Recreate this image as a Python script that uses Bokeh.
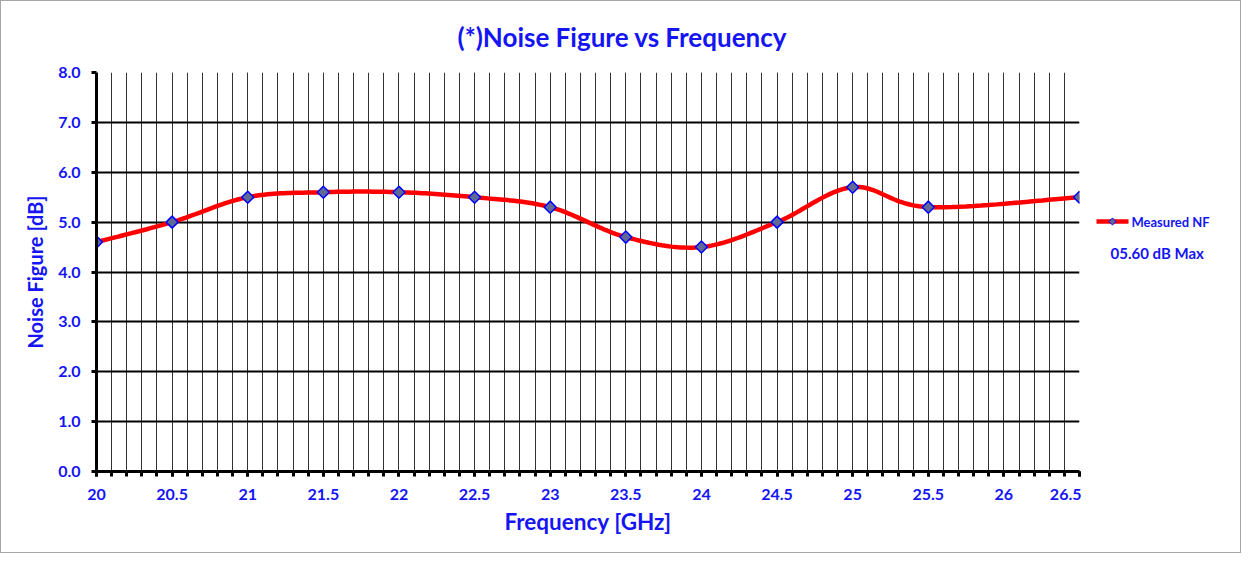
import numpy as np
from bokeh.plotting import figure
from bokeh.layouts import row
from bokeh.models import (Range1d, SingleIntervalTicker, NumeralTickFormatter, Title)
from bokeh.core.properties import value
from bokeh.embed import file_html
from bokeh.resources import INLINE

# ---- data ----
freq_ghz = [20.0, 20.5, 21.0, 21.5, 22.0, 22.5, 23.0, 23.5, 24.0, 24.5, 25.0, 25.5, 26.5]
noise_fig_db = [4.6, 5.0, 5.5, 5.6, 5.6, 5.5, 5.3, 4.7, 4.5, 5.0, 5.7, 5.3, 5.5]
series_name = "Measured NF"
max_note = "05.60 dB Max"
title_text = "(*)Noise Figure vs Frequency"
x_title = "Frequency [GHz]"
y_title = "Noise Figure [dB]"

BLUE = "#1414f5"
MARKER_FILL = "#5f6a94"
FONT = "Lato"


def smooth(xs, ys, n=24):
    """Excel-like smoothed line: cubic Bezier with Catmull-Rom control points."""
    P = np.column_stack([xs, ys]).astype(float)
    out = [P[0]]
    for i in range(len(P) - 1):
        p0 = P[i - 1] if i > 0 else P[i]
        p1 = P[i]
        p2 = P[i + 1]
        p3 = P[i + 2] if i + 2 < len(P) else P[i + 1]
        c1 = p1 + (p2 - p0) / 6.0
        c2 = p2 - (p3 - p1) / 6.0
        t = np.linspace(0, 1, n)[1:, None]
        seg = ((1 - t) ** 3) * p1 + 3 * ((1 - t) ** 2) * t * c1 + 3 * (1 - t) * t ** 2 * c2 + t ** 3 * p2
        out.extend(seg)
    out = np.array(out)
    return out[:, 0], out[:, 1]


sx, sy = smooth(freq_ghz, noise_fig_db)

p = figure(width=1080, height=551, output_backend="svg", toolbar_location=None,
           x_range=Range1d(20, 26.5), y_range=Range1d(0, 8),
           min_border_left=95, min_border_right=2, min_border_top=71, min_border_bottom=81,
           background_fill_color="white", border_fill_color="white")
p.outline_line_color = None

p.title = Title(text=title_text, align="left", offset=361, vertical_align="top",
                text_font=FONT, text_font_size="26px", text_font_style="bold",
                text_color=BLUE, standoff=35)

# axes
p.xaxis.ticker = SingleIntervalTicker(interval=0.5, num_minor_ticks=5)
p.xaxis.formatter = NumeralTickFormatter(format="0.[0]")
p.yaxis.ticker = SingleIntervalTicker(interval=1, num_minor_ticks=0)
p.yaxis.formatter = NumeralTickFormatter(format="0.0")

for ax in (p.xaxis[0], p.yaxis[0]):
    ax.axis_line_color = "black"
    ax.axis_line_width = 3
    ax.major_tick_line_color = "black"
    ax.major_tick_line_width = 3
    ax.major_tick_in = 0
    ax.major_tick_out = 5
    ax.major_label_text_font = FONT
    ax.major_label_text_font_size = "16px"
    ax.major_label_text_font_style = "bold"
    ax.major_label_text_color = BLUE
    ax.axis_label_text_font = FONT
    ax.axis_label_text_font_style = "bold"
    ax.axis_label_text_color = BLUE

p.xaxis.axis_label_text_font_size = "22.5px"
p.yaxis.axis_label_text_font_size = "20px"
p.xaxis.minor_tick_line_color = "black"
p.xaxis.minor_tick_line_width = 3
p.xaxis.minor_tick_in = 0
p.xaxis.minor_tick_out = 5
p.yaxis.minor_tick_line_color = None
p.xaxis.major_label_standoff = 12
p.yaxis.major_label_standoff = 11
p.xaxis.axis_label = x_title
p.yaxis.axis_label = y_title
p.xaxis.axis_label_standoff = 5
p.yaxis.axis_label_standoff = 8

# grids
p.xgrid.grid_line_color = "#333333"
p.xgrid.grid_line_width = 1
p.xgrid.minor_grid_line_color = "#333333"
p.xgrid.minor_grid_line_width = 1
p.ygrid.grid_line_color = "black"
p.ygrid.grid_line_width = 2

# series
p.line(sx, sy, line_color="red", line_width=4.5)
p.scatter(freq_ghz, noise_fig_db, marker="square", angle=np.pi / 4, size=8.5,
          fill_color=MARKER_FILL, line_color="blue", line_width=1.5)

# ---- legend area: a panel on the right, pixel-scaled over the plot frame height ----
q = figure(width=159, height=551, output_backend="svg", toolbar_location=None, title=None,
           x_range=Range1d(0, 159), y_range=Range1d(0, 399),
           x_axis_location=None, y_axis_location=None, min_border=0,
           background_fill_color="white", border_fill_color="white")
q.outline_line_color = None
q.grid.visible = False

q.line([15, 47], [250, 250], line_color="red", line_width=4.5)
q.scatter([31], [250], marker="square", angle=np.pi / 4, size=5,
          fill_color=MARKER_FILL, line_color="blue", line_width=1)
q.text([50], [250], text=[series_name], text_font=value(FONT), text_font_size="13px",
       text_font_style="bold", text_color=BLUE, text_baseline="middle")
q.text([29], [219], text=[max_note], text_font=value(FONT), text_font_size="15px",
       text_font_style="bold", text_color=BLUE, text_baseline="middle")

layout = row(p, q)
layout.styles = {"border": "1px solid #a6a6a6"}

open("out.html", "w").write(file_html(layout, INLINE))
